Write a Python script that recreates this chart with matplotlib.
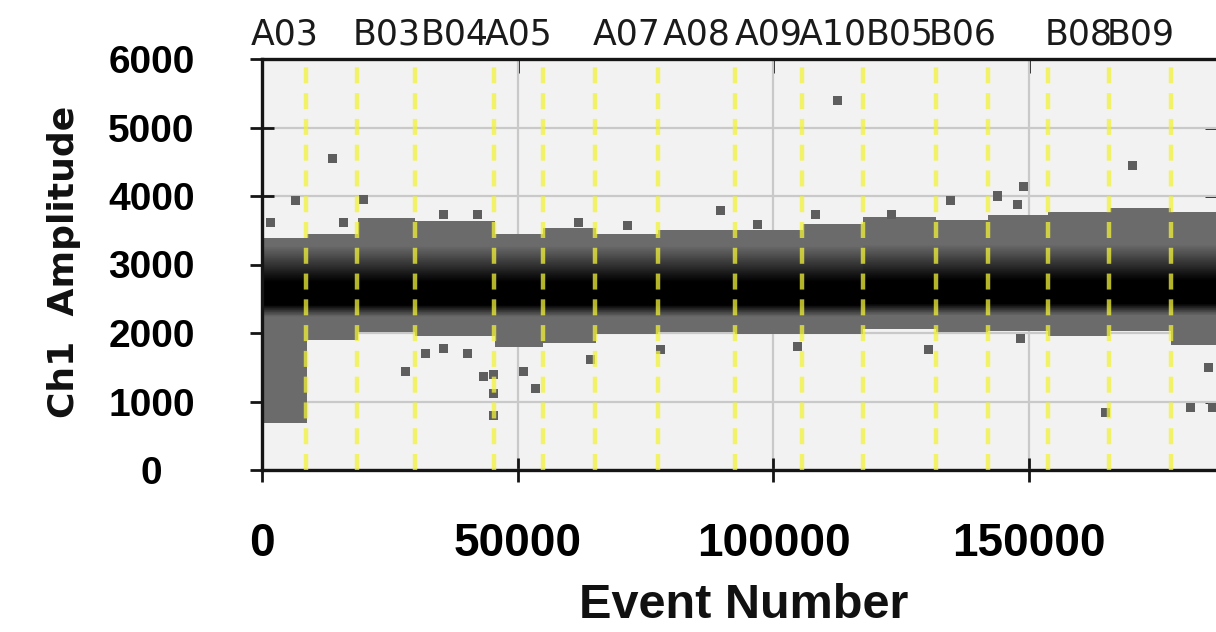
import numpy as np
import matplotlib.pyplot as plt
import matplotlib.transforms as mtransforms

# well boundaries (event number) and the names printed above each well
well_edges = [0, 8700, 18670, 30010, 45450, 55030, 65200, 77520, 92570,
              105670, 117600, 131870, 142040, 153770, 165700, 177820, 190000]
well_names = ["A03", "", "B03", "B04", "A05", "", "A07", "A08",
              "A09", "A10", "B05", "B06", "", "B08", "B09", ""]

# droplet cloud per well: upper edge, lower edge, centre of the dense core
band_top = [3380, 3450, 3680, 3640, 3440, 3540, 3440, 3500,
            3500, 3590, 3700, 3650, 3720, 3760, 3820, 3760]
band_bottom = [680, 1900, 2010, 1960, 1800, 1860, 1990, 2020,
               1990, 1980, 2060, 2010, 2030, 1960, 2030, 1820]
band_center = [2600, 2600, 2600, 2600, 2600, 2600, 2600, 2600,
               2600, 2600, 2620, 2620, 2620, 2620, 2620, 2620]

# isolated droplets
outlier_event = [1660, 6550, 13800, 16000, 19800, 35500, 42100, 28000, 32000,
                 40200, 35500, 43300, 45300, 45300, 45300, 51200, 53500, 61900,
                 64200, 71400, 77900, 89700, 96900, 104700, 108200, 112500,
                 123000, 130300, 134600, 143800, 147700, 148900, 148300,
                 164900, 170200, 181500, 185800, 185000]
outlier_amp = [3610, 3930, 4550, 3610, 3950, 3730, 3730, 1445, 1700,
               1700, 1780, 1370, 1400, 1110, 795, 1445, 1185, 3610,
               1620, 3570, 1760, 3790, 3580, 1800, 3730, 5400,
               3730, 1760, 3930, 4000, 3870, 4140, 1920,
               840, 4440, 910, 910, 1490]

x_max = 187700

fig = plt.figure(figsize=(12.16, 6.32), dpi=100)
ax = fig.add_axes([262/1216, 162/632, 960/1216, 411/632])
ax.set_facecolor('#f2f2f2')

# density image built from the per-well bands
xs = np.arange(0, x_max, 250) + 125
ys = np.arange(0, 6000, 10) + 5
seg = np.searchsorted(well_edges, xs, side='right') - 1
top = np.array(band_top)[seg]
bot = np.array(band_bottom)[seg]
cen = np.array(band_center)[seg]
d = ys[:, None] - cen[None, :]
up = np.clip((d - 150) / 520, 0, 1)
down = np.clip((-190 - d) / 170, 0, 1)
grey = 0.42 * np.maximum(up, down)
inside = (ys[:, None] >= bot[None, :]) & (ys[:, None] <= top[None, :])
rgba = np.dstack([grey, grey, grey, inside.astype(float)])
ax.imshow(rgba, extent=(0, len(xs) * 250, 0, 6000), origin='lower',
          aspect='auto', interpolation='nearest', zorder=2)

ax.scatter(outlier_event, outlier_amp, marker='s', s=42, c='#5e5e5e',
           edgecolors='none', zorder=2.5)

for e in well_edges[1:-1]:
    ax.axvline(e, color='#f2f23a', alpha=0.75, lw=3.2, ls=(0, (3.6, 2.2)), zorder=3)

trans = mtransforms.blended_transform_factory(ax.transData, ax.transAxes)
for i, name in enumerate(well_names):
    ax.text((well_edges[i] + min(well_edges[i + 1], x_max)) / 2, 1.06, name,
            transform=trans, ha='center', va='center', fontsize=25,
            color='#1a1a1a', family='DejaVu Sans')

ax.set_xlim(0, x_max)
ax.set_ylim(0, 6000)
ax.set_xticks([0, 50000, 100000, 150000])
ax.set_yticks(range(0, 7000, 1000))
ax.grid(True, color='#c9c9c9', lw=1.6)
ax.set_axisbelow(True)

for s in ax.spines.values():
    s.set_linewidth(2.4)
    s.set_color('#151515')

ax.tick_params(axis='both', direction='inout', length=17, width=2, color='#151515')
ax.tick_params(axis='x', pad=29)
ax.tick_params(axis='y', pad=71)
for lab in ax.get_xticklabels():
    lab.set_fontsize(33)
    lab.set_fontweight('bold')
    lab.set_family('Liberation Sans')
for lab in ax.get_yticklabels():
    lab.set_fontsize(28)
    lab.set_fontweight('bold')
    lab.set_family('Liberation Sans')
    lab.set_horizontalalignment('center')

sx = ax.secondary_xaxis('top')
sx.set_xticks([50000, 100000, 150000])
sx.tick_params(direction='in', length=10, width=2, labeltop=False, color='#151515')
sy = ax.secondary_yaxis('right')
sy.set_yticks(range(0, 7000, 1000))
sy.tick_params(direction='in', length=12, width=2, labelright=False, color='#151515')

fig.text(64/1216, 1 - 262/632, 'Ch1  Amplitude', rotation=90, ha='center',
         va='center', fontsize=26, fontweight='bold', family='DejaVu Sans',
         color='#111111')
fig.text(744/1216, 1 - 606/632, 'Event Number', ha='center', va='center',
         fontsize=35, fontweight='bold',
         family=['Liberation Sans Narrow', 'Liberation Sans'], color='#111111')

fig.savefig('out.png', dpi=100)
